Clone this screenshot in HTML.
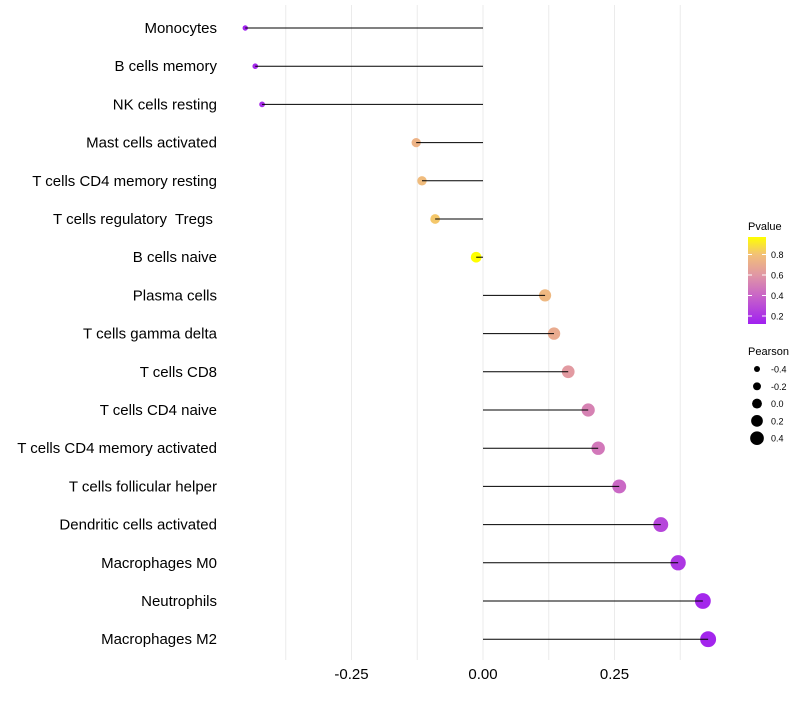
<!DOCTYPE html>
<html><head><meta charset="utf-8"><style>
body{margin:0;background:#fff;font-family:"Liberation Sans",sans-serif}
svg text{font-family:"Liberation Sans",sans-serif;white-space:pre}
</style></head><body>
<svg id="c" width="800" height="700"></svg>
<script>
const categories=["Monocytes","B cells memory","NK cells resting","Mast cells activated","T cells CD4 memory resting","T cells regulatory  Tregs ","B cells naive","Plasma cells","T cells gamma delta","T cells CD8","T cells CD4 naive","T cells CD4 memory activated","T cells follicular helper","Dendritic cells activated","Macrophages M0","Neutrophils","Macrophages M2"];
const pearson=[-0.452,-0.433,-0.420,-0.127,-0.116,-0.091,-0.013,0.118,0.135,0.162,0.200,0.219,0.259,0.338,0.371,0.418,0.428];
const pvalue=[0.14,0.16,0.18,0.74,0.78,0.82,0.97,0.76,0.7,0.62,0.52,0.48,0.42,0.28,0.22,0.16,0.15];
const xTicks=[-0.25,0,0.25];
const xTickLabels=["-0.25","0.00","0.25"];
const gridVals=[-0.375,-0.25,-0.125,0,0.125,0.25,0.375];
const pLegend=[0.8,0.6,0.4,0.2];
const sizeLegend=[-0.4,-0.2,0,0.2,0.4];
const NS="http://www.w3.org/2000/svg";
const svg=document.getElementById('c');
const x=v=>483+v*526;
const y=i=>28+i*38.2;
const r=p=>Math.max(2,5.4+6*p);
const stops=[[0.13,[160,32,240]],[0.4,[200,100,200]],[0.6,[224,150,165]],[0.8,[242,192,120]],[0.97,[255,255,0]]];
function col(p){p=Math.min(0.97,Math.max(0.13,p));for(let k=0;k<stops.length-1;k++){const a=stops[k],b=stops[k+1];if(p<=b[0]){const t=(p-a[0])/(b[0]-a[0]);return 'rgb('+a[1].map((c,j)=>Math.round(c+(b[1][j]-c)*t)).join(',')+')';}}return 'rgb(255,255,0)';}
function el(t,a,txt){const e=document.createElementNS(NS,t);for(const k in a)e.setAttribute(k,a[k]);if(txt!==undefined)e.textContent=txt;svg.appendChild(e);return e;}
gridVals.forEach(v=>{const g=el('line',{x1:x(v),x2:x(v),y1:5,y2:660,stroke:'#ebebeb','stroke-width':1});

});
categories.forEach((c,i)=>{
const t=el('text',{x:217,y:y(i)+5,'text-anchor':'end','font-size':15,fill:'#000'},c);


const d=el('circle',{cx:x(pearson[i]),cy:y(i),r:r(pearson[i]),fill:col(pvalue[i])});


const s=el('line',{x1:x(0),x2:x(pearson[i]),y1:y(i),y2:y(i),stroke:'#000','stroke-width':1});


});
xTicks.forEach((v,i)=>{const t=el('text',{x:x(v),y:679,'text-anchor':'middle','font-size':15,fill:'#000'},xTickLabels[i]);

});
const defs=el('defs',{});
const lg=document.createElementNS(NS,'linearGradient');lg.setAttribute('id','pg');lg.setAttribute('x1','0');lg.setAttribute('y1','1');lg.setAttribute('x2','0');lg.setAttribute('y2','0');
stops.forEach(s=>{const st=document.createElementNS(NS,'stop');st.setAttribute('offset',((s[0]-0.13)/0.84));st.setAttribute('stop-color','rgb('+s[1].join(',')+')');lg.appendChild(st);});
defs.appendChild(lg);
const lt=el('text',{x:748,y:230,'font-size':11,fill:'#000'},'Pvalue');


const cb=el('rect',{x:748,y:237,width:18,height:87,fill:'url(#pg)'});


const py=p=>316-(p-0.2)*102.5;
pLegend.forEach(p=>{el('line',{x1:748,x2:752,y1:py(p),y2:py(p),stroke:'#fff'});el('line',{x1:762,x2:766,y1:py(p),y2:py(p),stroke:'#fff'});
const t=el('text',{x:771,y:py(p)+3.5,'font-size':9,fill:'#000'},p.toFixed(1));

});
const st2=el('text',{x:748,y:355,'font-size':11,fill:'#000'},'Pearson');


sizeLegend.forEach((p,i)=>{const cy=369+i*17.3;
const d=el('circle',{cx:757,cy:cy,r:r(p)*0.8+0.6,fill:'#000'});


const t=el('text',{x:771,y:cy+3.5,'font-size':9,fill:'#000'},p.toFixed(1));

});
</script>
</body></html>
